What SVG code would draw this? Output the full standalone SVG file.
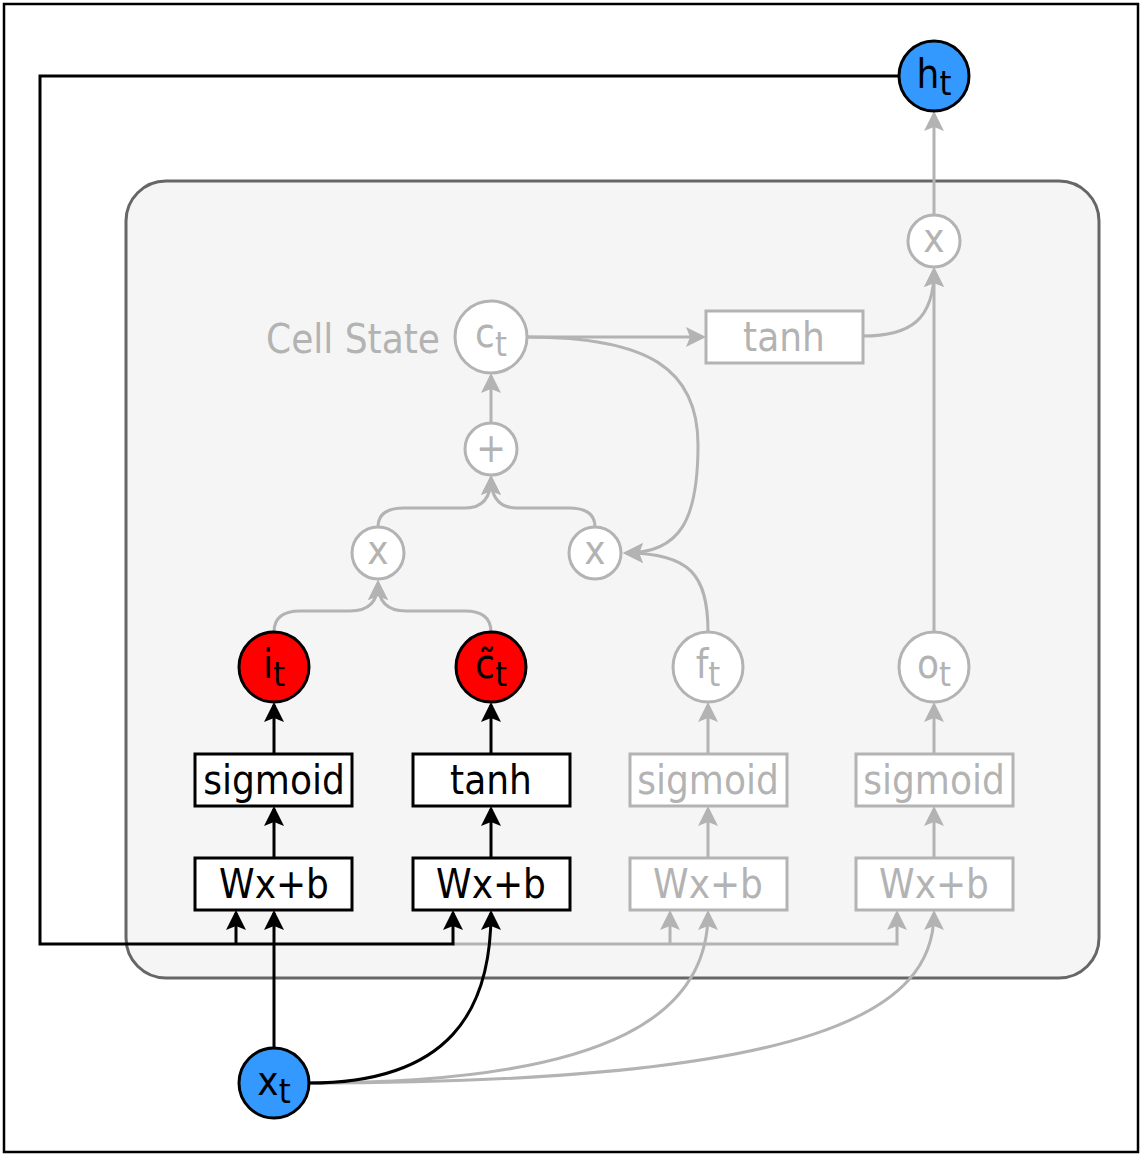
<svg xmlns="http://www.w3.org/2000/svg" width="1142" height="1155" viewBox="0 0 1142 1155">
<defs>
<marker id="ab" viewBox="0 0 20 20" refX="17" refY="10" markerWidth="20" markerHeight="20" markerUnits="userSpaceOnUse" orient="auto"><path d="M0,0 L20,10 L0,20 L4,10 z" fill="#000"/></marker>
<marker id="ag" viewBox="0 0 20 20" refX="17" refY="10" markerWidth="20" markerHeight="20" markerUnits="userSpaceOnUse" orient="auto"><path d="M0,0 L20,10 L0,20 L4,10 z" fill="#b3b3b3"/></marker>
</defs>
<style>
text{font-family:"DejaVu Sans Condensed","DejaVu Sans",sans-serif;font-stretch:condensed;text-anchor:middle}
.bt{font-size:40px;fill:#000}
.gt{font-size:40px;fill:#b3b3b3}
.lbl{font-size:40px}
.sub{font-size:34px}
.bbox{fill:#fff;stroke:#000;stroke-width:3}
.gbox{fill:#fff;stroke:#b3b3b3;stroke-width:3}
.gcirc{fill:#fff;stroke:#b3b3b3;stroke-width:3}
.red{fill:#ff0000;stroke:#000;stroke-width:3}
.blue{fill:#3399ff;stroke:#000;stroke-width:3}
.bl{fill:none;stroke:#000;stroke-width:3;marker-end:url(#ab)}
.gl{fill:none;stroke:#b3b3b3;stroke-width:3;marker-end:url(#ag)}
</style>
<rect x="4" y="4" width="1134" height="1148" fill="#fff" stroke="#000" stroke-width="2.5"/>
<g id="cell">
<rect x="126" y="181" width="973" height="797" rx="40" fill="#f5f5f5" stroke="#666" stroke-width="3"/>
<text class="gt" x="353" y="353">Cell State</text>
</g>
<g id="connectors">
<path class="gl" d="M309,1083 C620,1083 708,1010 708,913"/>
<path class="gl" d="M309,1083 C820,1083 934,1010 934,913"/>
<path class="gl" d="M453,944 L897,944 L897,913"/>
<path class="gl" d="M670,944 L670,913"/>
<path class="gl" d="M708,858 L708,809"/>
<path class="gl" d="M708,754 L708,705"/>
<path class="gl" d="M934,858 L934,809"/>
<path class="gl" d="M934,754 L934,705"/>
<path class="gl" d="M274,632 Q274,611 300,611 L350,611 Q378,611 378,583"/>
<path class="gl" d="M491,632 Q491,611 465,611 L406,611 Q378,611 378,583"/>
<path class="gl" d="M378,527 Q378,508 404,508 L465,508 Q491,508 491,478"/>
<path class="gl" d="M595,527 Q595,508 569,508 L517,508 Q491,508 491,478"/>
<path class="gl" d="M491,423 L491,376"/>
<path class="gl" d="M527,337 L703,337"/>
<path class="gl" d="M527,337 C650,337 698,370 698,445 C698,520 680,553 626,553"/>
<path class="gl" d="M708,632 C708,575 690,553 626,553"/>
<path class="gl" d="M934,632 L934,270"/>
<path class="gl" d="M863,336 C910,336 934,320 934,270"/>
<path class="gl" d="M934,215 L934,114"/>
<path class="bl" d="M899,76 L40,76 L40,944 L453,944 L453,913"/>
<path class="bl" d="M236,944 L236,913"/>
<path class="bl" d="M274,1048 L274,913"/>
<path class="bl" d="M309,1083 C450,1083 491,1010 491,913"/>
<path class="bl" d="M274,858 L274,809"/>
<path class="bl" d="M274,754 L274,705"/>
<path class="bl" d="M491,858 L491,809"/>
<path class="bl" d="M491,754 L491,705"/>
</g>
<g id="wxb1"><rect class="bbox" x="195" y="858" width="157" height="52"/><text class="bt" x="274" y="898">Wx+b</text></g>
<g id="sig1"><rect class="bbox" x="195" y="754" width="157" height="52"/><text class="bt" x="274" y="794">sigmoid</text></g>
<g id="wxb2"><rect class="bbox" x="413" y="858" width="157" height="52"/><text class="bt" x="491" y="898">Wx+b</text></g>
<g id="tanh1"><rect class="bbox" x="413" y="754" width="157" height="52"/><text class="bt" x="491" y="794">tanh</text></g>
<g id="wxb3"><rect class="gbox" x="630" y="858" width="157" height="52"/><text class="gt" x="708" y="898">Wx+b</text></g>
<g id="sig3"><rect class="gbox" x="630" y="754" width="157" height="52"/><text class="gt" x="708" y="794">sigmoid</text></g>
<g id="wxb4"><rect class="gbox" x="856" y="858" width="157" height="52"/><text class="gt" x="934" y="898">Wx+b</text></g>
<g id="sig4"><rect class="gbox" x="856" y="754" width="157" height="52"/><text class="gt" x="934" y="794">sigmoid</text></g>
<g id="tanh2"><rect class="gbox" x="706" y="311" width="157" height="52"/><text class="gt" x="784" y="351">tanh</text></g>
<g id="it"><circle class="red" cx="274" cy="667" r="35"/><text class="bt lbl" x="274" y="678">i<tspan class="sub" dy="8">t</tspan></text></g>
<g id="ctilde"><circle class="red" cx="491" cy="667" r="35"/><text class="bt lbl" x="491" y="678">c&#x303;<tspan class="sub" dy="8">t</tspan></text></g>
<g id="ft"><circle class="gcirc" cx="708" cy="667" r="35"/><text class="gt lbl" x="708" y="678">f<tspan class="sub" dy="8">t</tspan></text></g>
<g id="ot"><circle class="gcirc" cx="934" cy="667" r="35"/><text class="gt lbl" x="934" y="678">o<tspan class="sub" dy="8">t</tspan></text></g>
<g id="mul1"><circle class="gcirc" cx="378" cy="553" r="26"/><text class="gt" x="378" y="564">x</text></g>
<g id="mul2"><circle class="gcirc" cx="595" cy="553" r="26"/><text class="gt" x="595" y="564">x</text></g>
<g id="plus"><circle class="gcirc" cx="491" cy="449" r="26"/><text class="gt" x="491" y="462">+</text></g>
<g id="ct"><circle class="gcirc" cx="491" cy="337" r="36"/><text class="gt lbl" x="491" y="347">c<tspan class="sub" dy="9">t</tspan></text></g>
<g id="mul3"><circle class="gcirc" cx="934" cy="241" r="26"/><text class="gt" x="934" y="252">x</text></g>
<g id="ht"><circle class="blue" cx="934" cy="76" r="35"/><text class="bt lbl" x="934" y="88">h<tspan class="sub" dy="7">t</tspan></text></g>
<g id="xt"><circle class="blue" cx="274" cy="1083" r="35"/><text class="bt lbl" x="274" y="1095">x<tspan class="sub" dy="8">t</tspan></text></g>
</svg>
